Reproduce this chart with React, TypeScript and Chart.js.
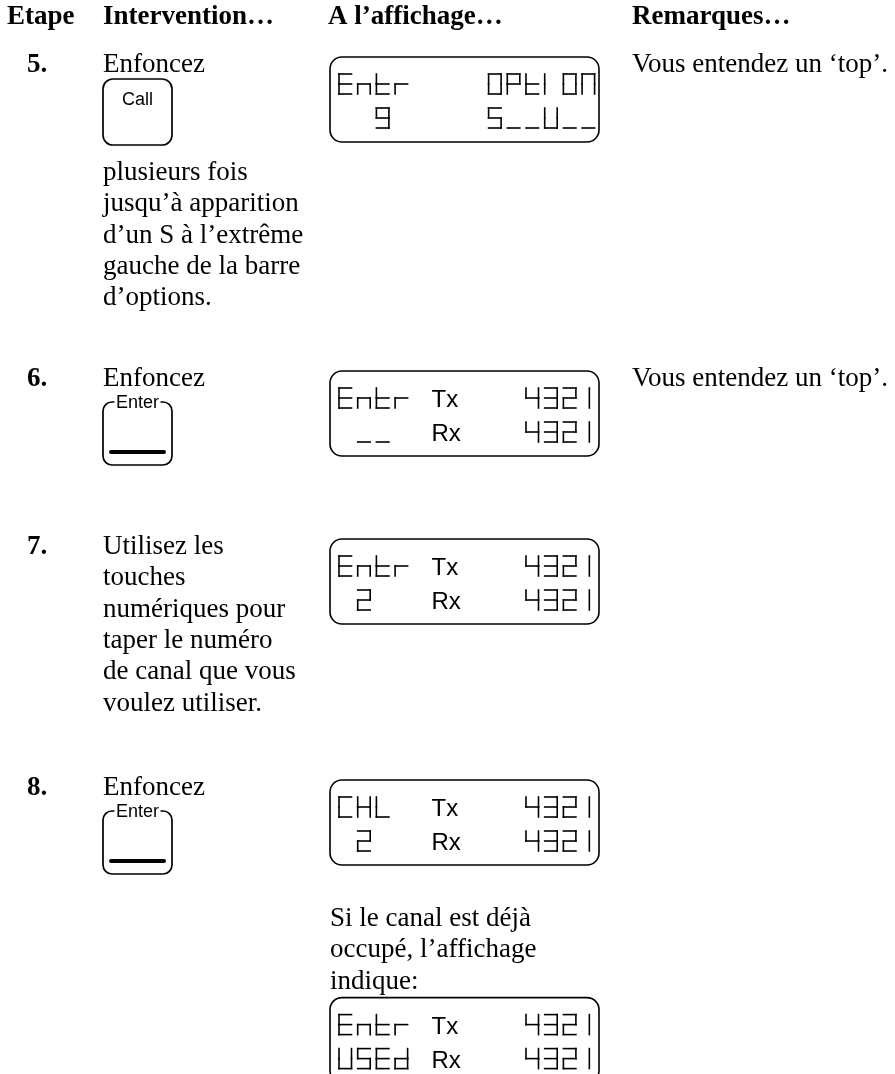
import React, { useEffect, useRef } from "react";
import { Chart, registerables } from "chart.js";

Chart.register(...registerables);

// ---------------- content ----------------
const headerLabels = ["Etape", "Intervention…", "A l’affichage…", "Remarques…"];
const stepNumbers = ["5.", "6.", "7.", "8."];
const stepLead = [
  ["Enfoncez"],
  ["Enfoncez"],
  ["Utilisez les", "touches", "numériques pour", "taper le numéro", "de canal que vous", "voulez utiliser."],
  ["Enfoncez"],
];
const stepKeys = ["Call", "Enter", "", "Enter"];
const stepFollow = [
  ["plusieurs fois", "jusqu’à apparition", "d’un S à l’extrême", "gauche de la barre", "d’options."],
  [],
  [],
  [],
];
const displayLine1 = ["Entr    OPtION", "Entr Tx   4321", "Entr Tx   4321", "CHL  Tx   4321"];
const displayLine2 = ["  9     5__U__", " __  Rx   4321", " 2   Rx   4321", " 2   Rx   4321"];
const remarks = ["Vous entendez un ‘top’.", "Vous entendez un ‘top’.", "", ""];
const noteLines = ["Si le canal est déjà", "occupé, l’affichage", "indique:"];
const noteDisplayLine1 = "Entr Tx   4321";
const noteDisplayLine2 = "USEd Rx   4321";

// ---------------- layout / style ----------------
const PAGE_W = 895;
const PAGE_H = 1074;
const SERIF = '"Liberation Serif", "Times New Roman", serif';
const SANS = '"Liberation Sans", Arial, sans-serif';
const BODY_PX = 27;
const LINE_GAP = 31.3;
const HEADER_Y = 15;
const COL_ETAPE = 7;
const COL_NUM = 27;
const COL_INTER = 103;
const COL_LCD = 330;
const COL_REMARK = 632;
const STEP_Y = [63, 377, 545, 786];
const KEY_W = 69;
const CALL_H = 66;
const ENTER_H = 63;
const CALL_OFFSET = 16;
const ENTER_OFFSET = 25;
const FOLLOW_OFFSET = 26;
const LCD_W = 269;
const LCD_H = 85;
const LCD_R = 12;
const LCD_TOP_OFFSET = -6;
const CELL_X0 = 9;
const CELL_PITCH = 18.7;
const GLYPH_W = 12.5;
const GLYPH_H = 20;
const ROW1 = 27;
const ROW2 = 61;
const NOTE_OFFSET = 52;
const NOTE_BOX_OFFSET = 18;
const INK = "#000000";

const SEGMENTS: Record<string, string> = {
  E: "adefg",
  n: "ceg",
  t: "defg",
  r: "eg",
  O: "abcdef",
  P: "abefg",
  I: "ef",
  N: "abcef",
  "9": "abcdfg",
  "5": "acdfg",
  S: "acdfg",
  _: "d",
  U: "bcdef",
  "4": "bcfg",
  "3": "abcdg",
  "2": "abdeg",
  "1": "m",
  C: "adef",
  H: "bcefg",
  L: "def",
  d: "bcdeg",
};

type Px = (v: number) => number;

function roundRectPath(ctx: CanvasRenderingContext2D, x: number, y: number, w: number, h: number, r: number) {
  ctx.beginPath();
  ctx.moveTo(x + r, y);
  ctx.arcTo(x + w, y, x + w, y + h, r);
  ctx.arcTo(x + w, y + h, x, y + h, r);
  ctx.arcTo(x, y + h, x, y, r);
  ctx.arcTo(x, y, x + w, y, r);
  ctx.closePath();
}

function serifText(ctx: CanvasRenderingContext2D, text: string, x: number, cy: number, bold = false) {
  ctx.font = `${bold ? "bold " : ""}${BODY_PX}px ${SERIF}`;
  ctx.textAlign = "left";
  ctx.textBaseline = "alphabetic";
  ctx.fillStyle = INK;
  ctx.fillText(text, x, cy + 9);
}

function drawGlyph(ctx: CanvasRenderingContext2D, ch: string, x: number, cy: number) {
  const segs = SEGMENTS[ch];
  if (!segs) return;
  const y = cy - GLYPH_H / 2;
  const w = GLYPH_W;
  const h = GLYPH_H;
  const m = y + h / 2;
  const mid = x + w / 2 + 1;
  const lines: Record<string, number[]> = {
    a: [x, y, x + w, y],
    b: [x + w, y, x + w, m],
    c: [x + w, m, x + w, y + h],
    d: [x, y + h, x + w, y + h],
    e: [x, m, x, y + h],
    f: [x, y, x, m],
    g: [x, m, x + w, m],
    m: [mid, y, mid, y + h],
  };
  ctx.lineWidth = 1.6;
  ctx.lineCap = "square";
  ctx.strokeStyle = INK;
  for (const s of segs) {
    const l = lines[s];
    ctx.beginPath();
    ctx.moveTo(l[0], l[1]);
    ctx.lineTo(l[2], l[3]);
    ctx.stroke();
  }
  ctx.lineCap = "butt";
}

function drawDisplayRow(ctx: CanvasRenderingContext2D, row: string, x0: number, cy: number) {
  let i = 0;
  while (i < row.length) {
    const pair = row.substr(i, 2);
    const cx = x0 + CELL_X0 + i * CELL_PITCH;
    if (pair === "Tx" || pair === "Rx") {
      ctx.font = `24px ${SANS}`;
      ctx.textAlign = "left";
      ctx.textBaseline = "alphabetic";
      ctx.fillStyle = INK;
      ctx.fillText(pair, cx - 1, cy + 9);
      i += 2;
      continue;
    }
    drawGlyph(ctx, row[i], cx, cy);
    i += 1;
  }
}

function drawDisplay(ctx: CanvasRenderingContext2D, x: number, y: number, l1: string, l2: string) {
  ctx.lineWidth = 1.6;
  ctx.strokeStyle = INK;
  roundRectPath(ctx, x, y, LCD_W, LCD_H, LCD_R);
  ctx.stroke();
  drawDisplayRow(ctx, l1, x, y + ROW1);
  drawDisplayRow(ctx, l2, x, y + ROW2);
}

function drawCallKey(ctx: CanvasRenderingContext2D, x: number, y: number, label: string) {
  ctx.lineWidth = 1.7;
  ctx.strokeStyle = INK;
  roundRectPath(ctx, x, y, KEY_W, CALL_H, 10);
  ctx.stroke();
  ctx.font = `18px ${SANS}`;
  ctx.textAlign = "center";
  ctx.textBaseline = "middle";
  ctx.fillStyle = INK;
  ctx.fillText(label, x + KEY_W / 2, y + 21);
}

function drawEnterKey(ctx: CanvasRenderingContext2D, x: number, y: number, label: string) {
  const w = KEY_W;
  const h = ENTER_H;
  const r = 9;
  ctx.font = `18px ${SANS}`;
  const tw = ctx.measureText(label).width;
  const cx = x + w / 2;
  const gl = cx - tw / 2 - 1.5;
  const gr = cx + tw / 2 + 1.5;
  ctx.lineWidth = 1.7;
  ctx.strokeStyle = INK;
  ctx.beginPath();
  ctx.moveTo(gl, y);
  ctx.arcTo(x, y, x, y + h, r);
  ctx.arcTo(x, y + h, x + w, y + h, r);
  ctx.arcTo(x + w, y + h, x + w, y, r);
  ctx.arcTo(x + w, y, gr, y, r);
  ctx.lineTo(gr, y);
  ctx.stroke();
  ctx.textAlign = "center";
  ctx.textBaseline = "middle";
  ctx.fillStyle = INK;
  ctx.fillText(label, cx, y + 1);
  ctx.lineWidth = 4;
  ctx.lineCap = "round";
  ctx.beginPath();
  ctx.moveTo(x + 8, y + h - 13);
  ctx.lineTo(x + w - 8, y + h - 13);
  ctx.stroke();
  ctx.lineCap = "butt";
}

const pagePlugin = {
  id: "pageContent",
  beforeDraw(chart: any) {
    const ctx = chart.ctx as CanvasRenderingContext2D;
    ctx.save();
    ctx.fillStyle = "#ffffff";
    ctx.fillRect(0, 0, chart.width, chart.height);
    ctx.restore();
  },
  afterDraw(chart: any) {
    const ctx = chart.ctx as CanvasRenderingContext2D;
    const X: Px = (v) => chart.scales.x.getPixelForValue(v);
    const Y: Px = (v) => chart.scales.y.getPixelForValue(v);
    ctx.save();

    // header
    const headerCols = [COL_ETAPE, COL_INTER, COL_LCD - 2, COL_REMARK];
    headerLabels.forEach((h, i) => serifText(ctx, h, X(headerCols[i]), Y(HEADER_Y), true));

    let lastLcdBottom = 0;
    stepNumbers.forEach((num, s) => {
      const top = STEP_Y[s];
      serifText(ctx, num, X(COL_NUM), Y(top), true);
      let cy = top;
      stepLead[s].forEach((line, k) => {
        cy = top + k * LINE_GAP;
        serifText(ctx, line, X(COL_INTER), Y(cy));
      });
      const key = stepKeys[s];
      if (key) {
        if (key === "Enter") {
          const ky = top + ENTER_OFFSET;
          drawEnterKey(ctx, X(COL_INTER), Y(ky), key);
          cy = ky + ENTER_H;
        } else {
          const ky = top + CALL_OFFSET;
          drawCallKey(ctx, X(COL_INTER), Y(ky), key);
          cy = ky + CALL_H;
        }
        stepFollow[s].forEach((line, k) => {
          serifText(ctx, line, X(COL_INTER), Y(cy + FOLLOW_OFFSET + k * LINE_GAP));
        });
      }
      const lcdTop = top + LCD_TOP_OFFSET;
      drawDisplay(ctx, X(COL_LCD), Y(lcdTop), displayLine1[s], displayLine2[s]);
      lastLcdBottom = lcdTop + LCD_H;
      if (remarks[s]) serifText(ctx, remarks[s], X(COL_REMARK), Y(top));
    });

    // note under step 8
    let ny = lastLcdBottom + NOTE_OFFSET;
    noteLines.forEach((line, k) => {
      ny = lastLcdBottom + NOTE_OFFSET + k * LINE_GAP;
      serifText(ctx, line, X(COL_LCD), Y(ny));
    });
    drawDisplay(ctx, X(COL_LCD), Y(ny + NOTE_BOX_OFFSET), noteDisplayLine1, noteDisplayLine2);

    ctx.restore();
  },
};

export default function App() {
  const ref = useRef<HTMLCanvasElement | null>(null);
  useEffect(() => {
    if (!ref.current) return;
    const chart = new Chart(ref.current, {
      type: "scatter",
      data: { datasets: [{ data: [], showLine: false, pointRadius: 0 }] },
      options: {
        animation: false,
        responsive: false,
        maintainAspectRatio: false,
        layout: { padding: 0 },
        events: [],
        plugins: { legend: { display: false }, tooltip: { enabled: false }, title: { display: false } },
        scales: {
          x: { type: "linear", min: 0, max: PAGE_W, display: false },
          y: { type: "linear", min: 0, max: PAGE_H, reverse: true, display: false },
        },
      },
      plugins: [pagePlugin],
    });
    return () => chart.destroy();
  }, []);
  return (
    <div style={{ position: "absolute", left: 0, top: 0, width: PAGE_W, height: PAGE_H, background: "#fff" }}>
      <canvas ref={ref} width={PAGE_W} height={PAGE_H} style={{ display: "block", width: PAGE_W, height: PAGE_H }} />
    </div>
  );
}
